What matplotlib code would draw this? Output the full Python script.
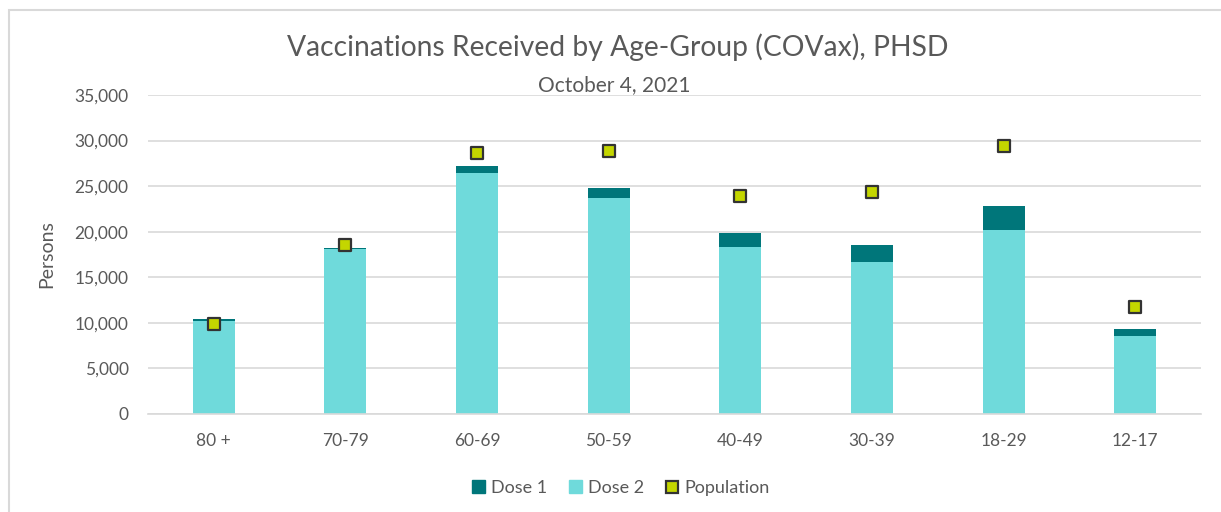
import matplotlib
matplotlib.use("Agg")
import matplotlib.pyplot as plt
from matplotlib.patches import Rectangle
from matplotlib.lines import Line2D
from matplotlib.ticker import FuncFormatter

categories = ["80 +", "70-79", "60-69", "50-59", "40-49", "30-39", "18-29", "12-17"]
dose2 = [10240, 18080, 26410, 23670, 18290, 16680, 20190, 8520]
dose1 = [150, 100, 800, 1160, 1540, 1830, 2600, 770]
population = [9900, 18540, 28600, 28890, 23950, 24320, 29440, 11770]
yticks = [0, 5000, 10000, 15000, 20000, 25000, 30000, 35000]

C_D1 = "#00767A"
C_D2 = "#6FDADB"
C_POP = "#C4D600"
TXT = "#595959"
GRID = "#D9D9D9"

plt.rcParams['font.family'] = ['Lato', 'DejaVu Sans']

fig = plt.figure(figsize=(12.21, 5.12), dpi=100)
ax = fig.add_axes([148/1221, (512-414)/512, (1201-148)/1221, (414-95)/512])

x = list(range(len(categories)))
w = 0.32
ax.bar(x, dose2, width=w, color=C_D2, label="Dose 2", zorder=2)
ax.bar(x, dose1, width=w, bottom=dose2, color=C_D1, label="Dose 1", zorder=2)
ax.scatter(x, population, marker="s", s=80, color=C_POP, edgecolors="#333333",
           linewidths=1.6, zorder=3, label="Population")

ax.set_xlim(-0.5, len(categories) - 0.5)
ax.set_ylim(0, 35000)
ax.set_yticks(yticks)
ax.yaxis.set_major_formatter(FuncFormatter(lambda v, p: f"{int(v):,}"))
ax.set_xticks(x)
ax.set_xticklabels(categories)
ax.grid(axis="y", color=GRID, linewidth=1.2, zorder=0)
ax.set_axisbelow(True)
for s in ["top", "right", "left"]:
    ax.spines[s].set_visible(False)
ax.spines["bottom"].set_color(GRID)
ax.spines["bottom"].set_linewidth(1.2)
ax.tick_params(axis="both", length=0, labelsize=12.5, labelcolor=TXT)
ax.tick_params(axis="y", pad=14)
ax.tick_params(axis="x", pad=14)
ax.set_ylabel("Persons", fontsize=14, color=TXT, labelpad=14)

fig.text(618/1221, 1 - 47/512, "Vaccinations Received by Age-Group (COVax), PHSD",
         ha="center", va="center", fontsize=20.3, color=TXT)
fig.text(614/1221, 1 - 85/512, "October 4, 2021", ha="center", va="center",
         fontsize=15, color=TXT)

handles = [
    Rectangle((0, 0), 1, 1, color=C_D1),
    Rectangle((0, 0), 1, 1, color=C_D2),
    Line2D([], [], marker="s", linestyle="none", markersize=9, markerfacecolor=C_POP,
           markeredgecolor="#333333", markeredgewidth=1.6),
]
fig.legend(handles, ["Dose 1", "Dose 2", "Population"], loc="center",
           bbox_to_anchor=(621/1221, 1 - 488/512), ncol=3, frameon=False,
           fontsize=13, labelcolor=TXT, handlelength=0.7, handleheight=0.7,
           handletextpad=0.35, columnspacing=1.2)

border = Rectangle((9/1221, -0.1), 1.2, 1 - 10/512 + 0.1, transform=fig.transFigure,
                   fill=False, edgecolor=GRID, linewidth=1.5)
fig.patches.append(border)

fig.savefig("out.png", dpi=100, facecolor="white")
